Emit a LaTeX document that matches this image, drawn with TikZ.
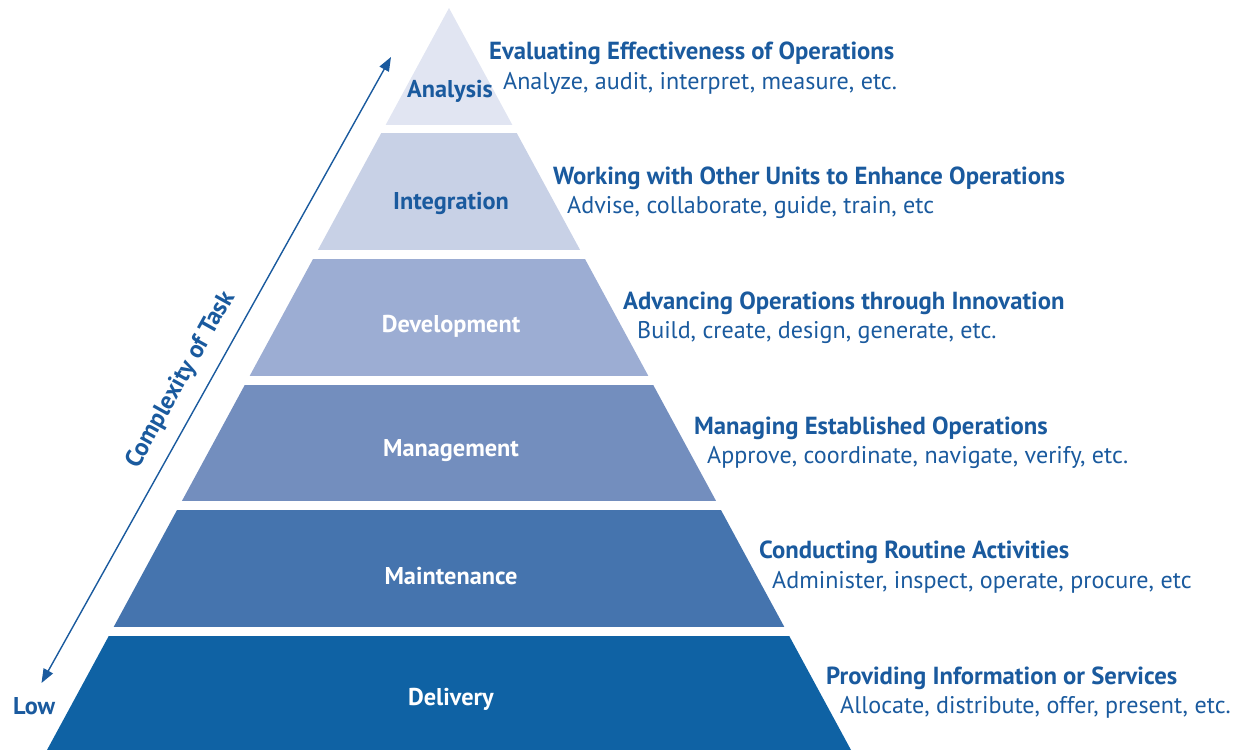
\documentclass[tikz,border=0pt]{standalone}
\usepackage{fontspec}
\setmainfont{PT Sans}
\usetikzlibrary{arrows.meta}
\definecolor{txt}{RGB}{26,90,158}
\definecolor{cA}{RGB}{225,229,242}
\definecolor{cB}{RGB}{200,209,230}
\definecolor{cC}{RGB}{156,173,211}
\definecolor{cD}{RGB}{115,142,190}
\definecolor{cE}{RGB}{69,116,174}
\definecolor{cF}{RGB}{15,98,164}
\begin{document}
\begin{tikzpicture}[x=1pt,y=-1pt,
  ttl/.style={anchor=base west, inner sep=0pt, font=\bfseries\fontsize{24.7}{24.7}\selectfont, text=txt},
  sub/.style={anchor=base west, inner sep=0pt, font=\fontsize{24.1}{24.1}\selectfont, text=txt},
  band/.style={anchor=base, inner sep=0pt, font=\bfseries\fontsize{24.3}{24.3}\selectfont}]
\useasboundingbox (0,0) rectangle (1236,750);
\begin{scope}
\clip (449,8) -- (47,750) -- (851,750) -- cycle;
\fill[cA] (0,0) rectangle (1236,125);
\fill[cB] (0,133) rectangle (1236,250);
\fill[cC] (0,259) rectangle (1236,376);
\fill[cD] (0,385) rectangle (1236,501);
\fill[cE] (0,510) rectangle (1236,627);
\fill[cF] (0,636) rectangle (1236,750);
\end{scope}
\node[band, text=txt] (l1) at (450,97) {Analysis};
\node[band, text=txt] (l2) at (451,209) {Integration};
\node[band, text=white] (l3) at (451,332) {Development};
\node[band, text=white] (l4) at (451,456) {Management};
\node[band, text=white] (l5) at (451,584) {Maintenance};
\node[band, text=white] (l6) at (451,705) {Delivery};
\node[ttl] (t1) at (489,59) {Evaluating Effectiveness of Operations};
\node[sub] (s1) at (503,89) {Analyze, audit, interpret, measure, etc.};
\node[ttl] (t2) at (553,184) {Working with Other Units to Enhance Operations};
\node[sub] (s2) at (567,213) {Advise, collaborate, guide, train, etc};
\node[ttl] (t3) at (623,309) {Advancing Operations through Innovation};
\node[sub] (s3) at (637,338) {Build, create, design, generate, etc.};
\node[ttl] (t4) at (694,434) {Managing Established Operations};
\node[sub] (s4) at (707,463) {Approve, coordinate, navigate, verify, etc.};
\node[ttl] (t5) at (759,558) {Conducting Routine Activities};
\node[sub] (s5) at (772,588) {Administer, inspect, operate, procure, etc};
\node[ttl] (t6) at (826,684) {Providing Information or Services};
\node[sub] (s6) at (840,713) {Allocate, distribute, offer, present, etc.};
\coordinate (hi) at (391,57);
\coordinate (lo) at (41.5,683);
\draw[txt, line width=1.4pt, {Triangle[length=14pt,width=10.5pt]}-{Triangle[length=14pt,width=10.5pt]}] (lo) -- (hi);
\node[band, anchor=center, text=txt, rotate=60.8, font=\bfseries\fontsize{24.8}{24.8}\selectfont] (cx) at (181,380) {Complexity of Task};
\node[band, anchor=base west, text=txt] (low) at (13,714) {Low};
\end{tikzpicture}
\end{document}
